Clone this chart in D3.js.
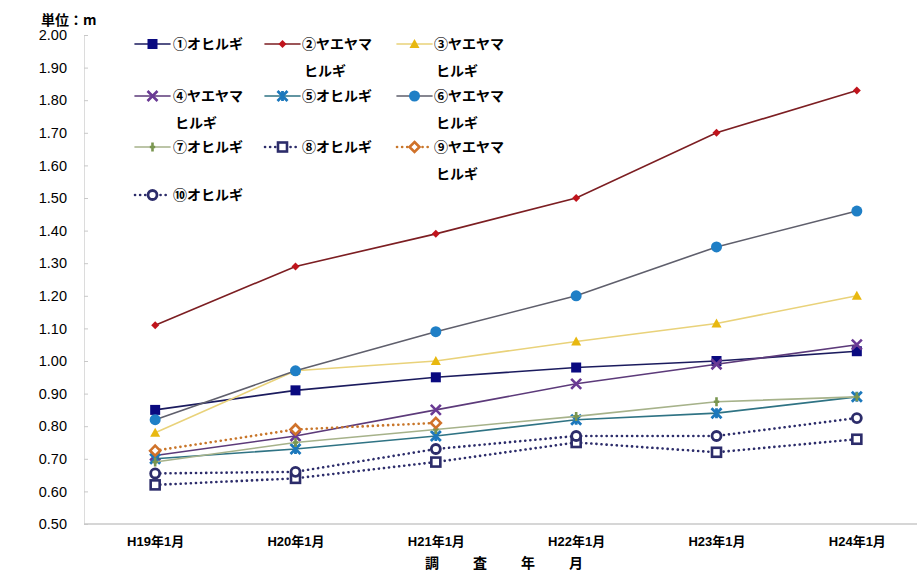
<!DOCTYPE html>
<html>
<head>
<meta charset="utf-8">
<script src="https://cdn.jsdelivr.net/npm/d3@7"></script>
<style>
  html, body { margin: 0; padding: 0; background: #fff; }
  svg { display: block; }
  text { font-family: "Liberation Sans", Arial, "Noto Sans CJK JP", sans-serif; fill: #000; }
  .jp { font-family: "Noto Sans CJK JP", "Liberation Sans", sans-serif; }
</style>
</head>
<body>
<svg id="chart" width="917" height="572"></svg>
<script>
// Survey dates (x categories)
const categories = ["H19年1月", "H20年1月", "H21年1月", "H22年1月", "H23年1月", "H24年1月"];

// Tree heights (m) per survey
const s1  = [0.85, 0.91, 0.95, 0.98, 1.00, 1.03];
const s2  = [1.11, 1.29, 1.39, 1.50, 1.70, 1.83];
const s3  = [0.78, 0.97, 1.00, 1.06, 1.115, 1.20];
const s4  = [0.71, 0.77, 0.85, 0.93, 0.99, 1.05];
const s5  = [0.70, 0.73, 0.77, 0.82, 0.84, 0.89];
const s6  = [0.82, 0.97, 1.09, 1.20, 1.35, 1.46];
const s7  = [0.69, 0.75, 0.79, 0.83, 0.875, 0.89];
const s8  = [0.62, 0.64, 0.69, 0.75, 0.72, 0.76];
const s9  = [0.725, 0.79, 0.81, null, null, null];
const s10 = [0.655, 0.66, 0.73, 0.77, 0.77, 0.825];

const seriesNames = ["①オヒルギ", "②ヤエヤマヒルギ", "③ヤエヤマヒルギ", "④ヤエヤマヒルギ", "⑤オヒルギ",
                     "⑥ヤエヤマヒルギ", "⑦オヒルギ", "⑧オヒルギ", "⑨ヤエヤマヒルギ", "⑩オヒルギ"];

// Y axis ticks
const yTicks = [0.50, 0.60, 0.70, 0.80, 0.90, 1.00, 1.10, 1.20, 1.30, 1.40, 1.50, 1.60, 1.70, 1.80, 1.90, 2.00];

const unitLabel = "単位：m";
const xTitle = "調査年月";

// Styling per series
const styles = [
  { line: "#1b1b5e", dash: null, marker: "square",   fill: "#0a0a80", stroke: "#0a0a80", size: 10 },
  { line: "#7c1e22", dash: null, marker: "diamond",  fill: "#c0141c", stroke: "#c0141c", size: 8 },
  { line: "#e9d27a", dash: null, marker: "triangle", fill: "#e8b810", stroke: "#e8b810", size: 10 },
  { line: "#5c3a7a", dash: null, marker: "x",        fill: "none",    stroke: "#6a3a94", size: 10 },
  { line: "#2f7384", dash: null, marker: "star",     fill: "none",    stroke: "#1c78bc", size: 10 },
  { line: "#5f5f6c", dash: null, marker: "circle",   fill: "#1f7fc6", stroke: "#1f7fc6", size: 11 },
  { line: "#a6b28a", dash: null, marker: "plus",     fill: "none",    stroke: "#7a9650", size: 9 },
  { line: "#2c2c6a", dash: "0.1 5", marker: "osquare", fill: "#fff", stroke: "#2c2c6a", size: 11 },
  { line: "#c8762a", dash: "0.1 5", marker: "odiamond", fill: "#fff", stroke: "#d0722a", size: 10 },
  { line: "#2c2c6a", dash: "0.1 5", marker: "ocircle", fill: "#fff", stroke: "#2c2c6a", size: 11 }
];

const allSeries = [s1, s2, s3, s4, s5, s6, s7, s8, s9, s10].map((vals, i) => ({
  name: seriesNames[i],
  values: vals.map((v, j) => ({ cat: categories[j], v })),
  style: styles[i]
}));

const svg = d3.select("#chart");

const x = d3.scalePoint().domain(categories).range([85, 927]).padding(0.5);
const y = d3.scaleLinear().domain([0.5, 2.0]).range([524, 35]);

// Y axis
const yAxis = svg.append("g").attr("transform", "translate(84,0)")
  .call(d3.axisRight(y).tickValues(yTicks).tickSize(4).tickFormat(""));
yAxis.select(".domain").attr("stroke", "#dcdcdc");
yAxis.selectAll(".tick line").attr("stroke", "#c8c8c8");

svg.append("g").selectAll("text").data(yTicks).join("text")
  .attr("x", 67).attr("y", d => y(d)).attr("dy", "0.36em")
  .attr("text-anchor", "end").attr("font-size", 14.5)
  .text(d => d.toFixed(2));

// X axis
const xAxis = svg.append("g").attr("transform", "translate(0,524)")
  .call(d3.axisBottom(x).tickSize(0).tickPadding(13));
xAxis.select(".domain").attr("d", "M84,0H917").attr("stroke", "#c8c8c8").attr("stroke-width", 1.5);
xAxis.selectAll(".tick text").attr("font-size", 13).attr("font-weight", "bold")
  .attr("font-family", "'Liberation Sans', 'Noto Sans CJK JP', sans-serif").attr("fill", "#000");

// Unit label
svg.append("text").attr("class", "jp").attr("x", 41).attr("y", 25)
  .attr("font-size", 14).attr("font-weight", "bold").text(unitLabel);

// X axis title with wide spacing
svg.append("text").attr("class", "jp").attr("x", 425).attr("y", 568)
  .attr("font-size", 14).attr("font-weight", "bold")
  .style("letter-spacing", "34px").text(xTitle);

// Marker drawing
function drawMarker(g, st, cx, cy) {
  const s = st.size;
  const h = s / 2;
  switch (st.marker) {
    case "square":
      g.append("rect").attr("x", cx - h).attr("y", cy - h).attr("width", s).attr("height", s)
        .attr("fill", st.fill);
      break;
    case "diamond":
      g.append("path").attr("d", `M${cx},${cy - h}L${cx + h},${cy}L${cx},${cy + h}L${cx - h},${cy}Z`)
        .attr("fill", st.fill);
      break;
    case "triangle":
      g.append("path").attr("d", `M${cx},${cy - h}L${cx + h},${cy + h * 0.8}L${cx - h},${cy + h * 0.8}Z`)
        .attr("fill", st.fill);
      break;
    case "circle":
      g.append("circle").attr("cx", cx).attr("cy", cy).attr("r", h).attr("fill", st.fill);
      break;
    case "x":
      g.append("path").attr("d", `M${cx - h},${cy - h}L${cx + h},${cy + h}M${cx - h},${cy + h}L${cx + h},${cy - h}`)
        .attr("stroke", st.stroke).attr("stroke-width", 2.6).attr("fill", "none");
      break;
    case "star":
      g.append("path").attr("d", `M${cx - h},${cy - h}L${cx + h},${cy + h}M${cx - h},${cy + h}L${cx + h},${cy - h}M${cx},${cy - h}V${cy + h}`)
        .attr("stroke", st.stroke).attr("stroke-width", 2.8).attr("fill", "none");
      break;
    case "plus":
      g.append("path").attr("d", `M${cx},${cy - h}V${cy + h}M${cx - h * 0.6},${cy}H${cx + h * 0.6}`)
        .attr("stroke", st.stroke).attr("stroke-width", 2.6).attr("fill", "none");
      break;
    case "osquare":
      g.append("rect").attr("x", cx - h + 1).attr("y", cy - h + 1).attr("width", s - 2).attr("height", s - 2)
        .attr("fill", st.fill).attr("stroke", st.stroke).attr("stroke-width", 2.6);
      break;
    case "odiamond":
      g.append("path").attr("d", `M${cx},${cy - h}L${cx + h},${cy}L${cx},${cy + h}L${cx - h},${cy}Z`)
        .attr("fill", st.fill).attr("stroke", st.stroke).attr("stroke-width", 2.6);
      break;
    case "ocircle":
      g.append("circle").attr("cx", cx).attr("cy", cy).attr("r", h - 1)
        .attr("fill", st.fill).attr("stroke", st.stroke).attr("stroke-width", 2.8);
      break;
  }
}

const line = d3.line()
  .defined(d => d.v != null)
  .x(d => x(d.cat))
  .y(d => y(d.v));

const plot = svg.append("g");
allSeries.forEach(sr => {
  const g = plot.append("g");
  const st = sr.style;
  g.append("path").datum(sr.values).attr("d", line)
    .attr("fill", "none").attr("stroke", st.line)
    .attr("stroke-width", st.dash ? 2.6 : 1.6)
    .attr("stroke-linecap", "round")
    .attr("stroke-dasharray", st.dash);
  sr.values.filter(d => d.v != null).forEach(d => drawMarker(g, st, x(d.cat), y(d.v)));
});

// Legend: 3 columns, wrapping long names onto a second line
const legCols = [{ x0: 135, x1: 170, tx: 173 }, { x0: 265, x1: 300, tx: 302 }, { x0: 397, x1: 432, tx: 434 }];
const legRows = [44, 96, 147, 195];
const legend = svg.append("g");
allSeries.forEach((sr, i) => {
  const c = legCols[i % 3];
  const ry = legRows[Math.floor(i / 3)];
  const g = legend.append("g");
  const st = sr.style;
  g.append("line").attr("x1", c.x0).attr("x2", c.x1).attr("y1", ry).attr("y2", ry)
    .attr("stroke", st.line).attr("stroke-width", st.dash ? 2.6 : 1.6)
    .attr("stroke-linecap", "round").attr("stroke-dasharray", st.dash);
  drawMarker(g, st, (c.x0 + c.x1) / 2, ry);
  const lines = sr.name.length > 5 ? [sr.name.slice(0, 5), sr.name.slice(5)] : [sr.name];
  lines.forEach((t, k) => {
    g.append("text").attr("class", "jp").attr("x", c.tx + (k ? 2 : 0)).attr("y", ry + k * 27)
      .attr("dy", "0.36em").attr("font-size", 14).attr("font-weight", "bold").text(t);
  });
});
</script>
</body>
</html>
